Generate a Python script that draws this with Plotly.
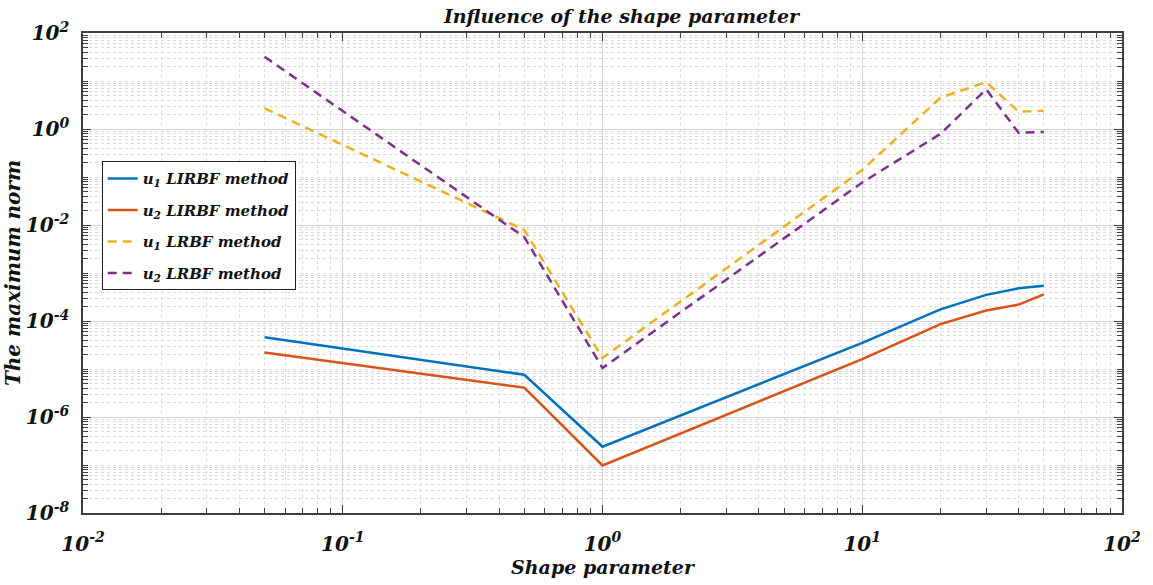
import plotly.graph_objects as go

# Shape parameter values (x) and maximum-norm errors for each method
shape_param = [0.05, 0.5, 1, 10, 20, 30, 40, 50]
u1_lirbf = [4.6e-5, 7.6e-6, 2.4e-7, 3.5e-5, 1.75e-4, 3.5e-4, 4.8e-4, 5.4e-4]
u2_lirbf = [2.2e-5, 4.1e-6, 9.8e-8, 1.6e-5, 8.6e-5, 1.65e-4, 2.2e-4, 3.6e-4]
u1_lrbf = [2.7, 7.9e-3, 1.7e-5, 0.14, 4.5, 9.5, 2.3, 2.4]
u2_lrbf = [32, 5.6e-3, 1.05e-5, 0.077, 0.79, 6.7, 0.83, 0.87]

series_names = [
    "u<sub>1</sub> LIRBF method",
    "u<sub>2</sub> LIRBF method",
    "u<sub>1</sub> LRBF method",
    "u<sub>2</sub> LRBF method",
]

x_major = [1e-2, 1e-1, 1e0, 1e1, 1e2]
x_major_text = ["10<sup>-2</sup>", "10<sup>-1</sup>", "10<sup>0</sup>", "10<sup>1</sup>", "10<sup>2</sup>"]
y_major = [1e-8, 1e-6, 1e-4, 1e-2, 1e0, 1e2]
y_major_text = ["10<sup>-8</sup>", "10<sup>-6</sup>", "10<sup>-4</sup>", "10<sup>-2</sup>", "10<sup>0</sup>", "10<sup>2</sup>"]

x_minor = [k * 10.0 ** p for p in range(-2, 2) for k in range(2, 10)]
y_minor = [k * 10.0 ** p for p in range(-8, 2) for k in range(1, 10)
           if not (k == 1 and p % 2 == 0)]

colors = ["#0072BD", "#D95319", "#EDB120", "#7E2F8E"]
dashes = ["solid", "solid", "9px,6px", "9px,6px"]
values = [u1_lirbf, u2_lirbf, u1_lrbf, u2_lrbf]

serif = "DejaVu Serif"
ink = "#111111"
fig = go.Figure()
for i, (name, yv, c, d) in enumerate(zip(series_names, values, colors, dashes)):
    fig.add_trace(go.Scatter(
        x=shape_param, y=yv, mode="lines", name=name, legendgroup=f"g{i}",
        line=dict(color=c, width=2.5, dash=d),
    ))

axis_common = dict(
    type="log",
    tickmode="array",
    showline=True, linecolor="#404040", linewidth=1.5,
    mirror="ticks", ticks="inside", ticklen=8, tickwidth=1, tickcolor="#404040",
    showgrid=True, gridcolor="#d6d6d6", gridwidth=1,
    zeroline=False,
    tickfont=dict(family=serif, size=20, color=ink, weight="bold", style="italic"),
)
minor_common = dict(tickmode="array", ticks="inside", ticklen=5, tickcolor="#404040",
                    showgrid=True, gridcolor="#dcdcdc", griddash="dot", gridwidth=1)

fig.update_xaxes(
    **axis_common,
    range=[-2, 2],
    tickvals=x_major, ticktext=x_major_text,
    ticklabelstandoff=12,
    minor=dict(tickvals=x_minor, **minor_common),
    title=dict(text="Shape parameter", standoff=4,
               font=dict(family=serif, size=19, color=ink, weight="bold", style="italic")),
)
fig.update_yaxes(
    **axis_common,
    range=[-8, 2],
    tickvals=y_major, ticktext=y_major_text,
    ticklabelstandoff=8,
    minor=dict(tickvals=y_minor, **minor_common),
    title=dict(text="The maximum norm", standoff=0,
               font=dict(family=serif, size=20, color=ink, weight="bold", style="italic")),
)

fig.update_layout(
    width=1153, height=585,
    margin=dict(l=80, r=20, t=33, b=68),
    paper_bgcolor="white", plot_bgcolor="white",
    title=dict(text="Influence of the shape parameter", x=0.539, xanchor="center",
               y=0.972, yanchor="middle",
               font=dict(family=serif, size=19, color=ink, weight="bold", style="italic")),
    legend=dict(
        x=0.018, y=0.733, xanchor="left", yanchor="top",
        bgcolor="white", bordercolor="#222222", borderwidth=1,
        font=dict(family=serif, size=15, color=ink, weight="bold", style="italic"),
        traceorder="grouped", tracegroupgap=9,
    ),
    showlegend=True,
)

fig.write_html("out.html")
